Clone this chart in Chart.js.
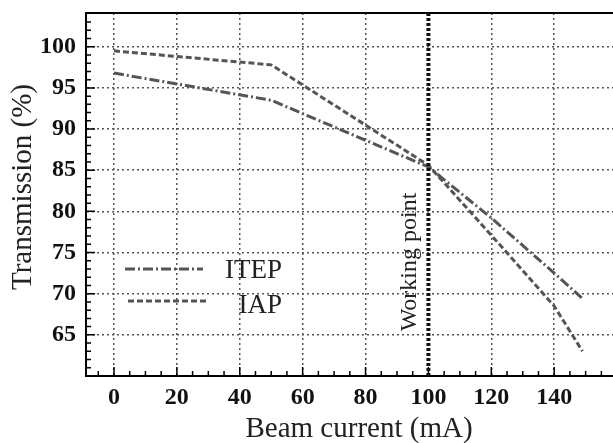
<!DOCTYPE html>
<html>
<head>
<meta charset="utf-8">
<script src="https://cdn.jsdelivr.net/npm/chart.js@4.4.1/dist/chart.umd.min.js"></script>
<style>
html, body { margin: 0; padding: 0; background: #fff; }
</style>
</head>
<body>
<canvas id="grafico" width="613" height="443"></canvas>
<script>
// valores
const beamCurrent = [0, 50, 100, 120, 140, 149];
const itep = [96.8, 93.5, 85.4, 79.2, 72.5, 69.4];
const iap = [99.5, 97.8, 85.6, 77.1, 68.5, 63.0];
const xTicks = [0, 20, 40, 60, 80, 100, 120, 140];
const yTicks = [65, 70, 75, 80, 85, 90, 95, 100];
const workingPoint = 100;

const serif = "'Liberation Serif', 'Times New Roman', serif";

function pontos(ys) {
    return beamCurrent.map((x, i) => ({ x: x, y: ys[i] }));
}

const extras = {
    id: 'extras',
    afterDraw(chart) {
        const ctx = chart.ctx;
        const ca = chart.chartArea;
        const sx = chart.scales.x;
        const sy = chart.scales.y;
        ctx.save();

        // borda de cima
        ctx.strokeStyle = '#000';
        ctx.lineWidth = 2;
        ctx.beginPath();
        ctx.moveTo(ca.left, ca.top);
        ctx.lineTo(ca.right, ca.top);
        ctx.stroke();

        // ticks para dentro
        ctx.lineWidth = 1.5;
        ctx.beginPath();
        for (let v = -5; v <= 155; v += 5) {
            const px = sx.getPixelForValue(v);
            if (px <= ca.left + 1 || px >= ca.right) continue;
            const len = v % 20 === 0 ? 9 : 5;
            ctx.moveTo(px, ca.bottom);
            ctx.lineTo(px, ca.bottom - len);
        }
        for (let v = 61; v <= 104; v++) {
            const py = sy.getPixelForValue(v);
            if (py <= ca.top + 1) continue;
            const len = v % 5 === 0 ? 9 : 5;
            ctx.moveTo(ca.left, py);
            ctx.lineTo(ca.left + len, py);
        }
        ctx.stroke();

        // working point
        const wx = sx.getPixelForValue(workingPoint);
        ctx.strokeStyle = '#111';
        ctx.lineWidth = 4;
        ctx.setLineDash([3, 2]);
        ctx.beginPath();
        ctx.moveTo(wx, ca.top);
        ctx.lineTo(wx, ca.bottom);
        ctx.stroke();
        ctx.setLineDash([]);

        ctx.fillStyle = '#222';
        ctx.font = '24px ' + serif;
        ctx.textAlign = 'center';
        ctx.textBaseline = 'middle';
        ctx.save();
        ctx.translate(wx - 19, 262);
        ctx.rotate(-Math.PI / 2);
        ctx.fillText('Working point', 0, 0);
        ctx.restore();

        // legenda
        const leg = [
            { ds: chart.data.datasets[0], x1: 125, x2: 203, y: 269, ty: 278 },
            { ds: chart.data.datasets[1], x1: 128, x2: 207, y: 301, ty: 313 }
        ];
        ctx.font = '27px ' + serif;
        ctx.textAlign = 'right';
        ctx.textBaseline = 'alphabetic';
        leg.forEach(l => {
            ctx.strokeStyle = l.ds.borderColor;
            ctx.lineWidth = l.ds.borderWidth;
            ctx.setLineDash(l.ds.borderDash);
            ctx.beginPath();
            ctx.moveTo(l.x1, l.y);
            ctx.lineTo(l.x2, l.y);
            ctx.stroke();
            ctx.setLineDash([]);
            ctx.fillStyle = '#222';
            ctx.fillText(l.ds.label, 282, l.ty);
        });

        // titulos dos eixos
        ctx.fillStyle = '#222';
        ctx.font = '29px ' + serif;
        ctx.textAlign = 'center';
        ctx.fillText('Beam current (mA)', 359, 437);
        ctx.save();
        ctx.translate(23, 187);
        ctx.rotate(-Math.PI / 2);
        ctx.textBaseline = 'middle';
        ctx.fillText('Transmission (%)', 0, 0);
        ctx.restore();

        ctx.restore();
    }
};

const ctx = document.getElementById('grafico');
new Chart(ctx, {
    type: 'scatter',
    data: {
        datasets: [
            {
                label: 'ITEP',
                data: pontos(itep),
                showLine: true,
                borderColor: '#555',
                borderWidth: 3,
                borderDash: [10, 3, 2, 3],
                pointRadius: 0,
                tension: 0
            },
            {
                label: 'IAP',
                data: pontos(iap),
                showLine: true,
                borderColor: '#555',
                borderWidth: 3,
                borderDash: [6, 3],
                pointRadius: 0,
                tension: 0
            }
        ]
    },
    options: {
        responsive: false,
        animation: false,
        devicePixelRatio: 1,
        layout: { padding: { top: 13, right: 0, left: 0, bottom: 0 } },
        plugins: {
            legend: { display: false },
            tooltip: { enabled: false }
        },
        scales: {
            x: {
                type: 'linear',
                min: -8.9,
                max: 158.7,
                afterBuildTicks: s => { s.ticks = xTicks.map(v => ({ value: v })); },
                afterFit: s => { s.height = 67; s.paddingLeft = 0; s.paddingRight = 0; },
                grid: { color: '#555', lineWidth: 1.5, drawTicks: false },
                border: { color: '#000', width: 2, dash: [2, 3] },
                ticks: {
                    color: '#111',
                    padding: 7,
                    maxRotation: 0,
                    autoSkip: false,
                    font: { family: serif, size: 24, weight: 'bold' }
                }
            },
            y: {
                type: 'linear',
                min: 60,
                max: 104.1,
                afterBuildTicks: s => { s.ticks = yTicks.map(v => ({ value: v })); },
                afterFit: s => { s.width = 86; s.paddingTop = 0; s.paddingBottom = 0; },
                grid: { color: '#555', lineWidth: 1.5, drawTicks: false },
                border: { color: '#000', width: 2, dash: [2, 3] },
                ticks: {
                    color: '#111',
                    padding: 10,
                    autoSkip: false,
                    font: { family: serif, size: 24, weight: 'bold' }
                }
            }
        }
    },
    plugins: [extras]
});
</script>
</body>
</html>
